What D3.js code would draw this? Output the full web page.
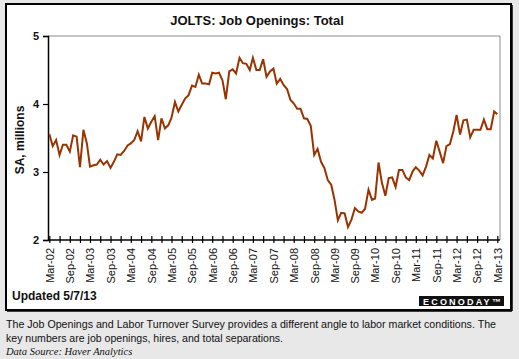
<!DOCTYPE html>
<html>
<head>
<meta charset="utf-8">
<script src="https://cdn.jsdelivr.net/npm/d3@7"></script>
<style>
  html, body { margin: 0; padding: 0; background: #e8e8e8; }
  svg { display: block; }
</style>
</head>
<body>
<svg id="chart" width="519" height="359"></svg>
<script>
// ---- Data (monthly, Mar-02 .. Mar-13), job openings, SA, millions ----
const startMonth = new Date(2002, 2, 1);
const openings = [
  3.56, 3.38, 3.47, 3.25, 3.40, 3.40, 3.30, 3.54, 3.52, 3.07, 3.62, 3.42,
  3.08, 3.10, 3.11, 3.18, 3.11, 3.16, 3.06, 3.15, 3.26, 3.25, 3.31, 3.39,
  3.42, 3.47, 3.60, 3.45, 3.81, 3.64, 3.74, 3.82, 3.47, 3.79, 3.64, 3.69,
  3.80, 4.03, 3.89, 3.99, 4.08, 4.13, 4.27, 4.25, 4.43, 4.30, 4.30, 4.29,
  4.46, 4.45, 4.46, 4.35, 4.07, 4.48, 4.51, 4.45, 4.68, 4.60, 4.59, 4.50,
  4.68, 4.50, 4.50, 4.66, 4.40, 4.48, 4.52, 4.30, 4.37, 4.28, 4.22, 4.06,
  4.01, 3.93, 3.93, 3.79, 3.78, 3.68, 3.25, 3.34, 3.15, 3.06, 2.88, 2.81,
  2.60, 2.29, 2.40, 2.39, 2.19, 2.30, 2.47, 2.42, 2.40, 2.46, 2.74, 2.59,
  2.61, 3.14, 2.84, 2.65, 2.91, 2.92, 2.78, 3.03, 3.03, 2.92, 2.88, 3.01,
  3.07, 3.02, 2.95, 3.08, 3.25, 3.20, 3.46, 3.30, 3.13, 3.38, 3.41, 3.60,
  3.84, 3.55, 3.76, 3.77, 3.51, 3.62, 3.62, 3.62, 3.77, 3.63, 3.63, 3.89,
  3.85
];
const tickLabels = ["Mar-02","Sep-02","Mar-03","Sep-03","Mar-04","Sep-04","Mar-05","Sep-05",
  "Mar-06","Sep-06","Mar-07","Sep-07","Mar-08","Sep-08","Mar-09","Sep-09","Mar-10","Sep-10",
  "Mar-11","Sep-11","Mar-12","Sep-12","Mar-13"];
const yTicks = [2, 3, 4, 5];
const title = "JOLTS: Job Openings: Total";
const yTitle = "SA, millions";
const updated = "Updated 5/7/13";
const note1 = "The Job Openings and Labor Turnover Survey provides a different angle to labor market conditions. The";
const note2 = "key numbers are job openings, hires, and total separations.";
const source = "Data Source: Haver Analytics";

// ---- Build ----
const fmt = d3.timeFormat("%b-%y");
const months = openings.map((v, i) => d3.timeMonth.offset(startMonth, i));
const data = months.map((m, i) => ({ m, v: openings[i] }));

const svg = d3.select("#chart");
const font = "Arial, 'Liberation Sans', Helvetica, sans-serif";

// frame
svg.append("rect").attr("x", 6).attr("y", 4).attr("width", 505).attr("height", 306)
  .attr("fill", "#ffffff").attr("stroke", "#000").attr("stroke-width", 2);
svg.append("line").attr("x1", 512).attr("x2", 512).attr("y1", 5).attr("y2", 311).attr("stroke", "#000").attr("stroke-width", 1.5);
svg.append("line").attr("x1", 7).attr("x2", 512).attr("y1", 311).attr("y2", 311).attr("stroke", "#000").attr("stroke-width", 1.5);

const x = d3.scaleTime().domain([months[0], months[months.length - 1]]).range([49.3, 497.3]);
const y = d3.scaleLinear().domain([2, 5]).range([240, 36]);
const pLeft = 48, pRight = 500, pTop = 36, pBottom = 240;

// plot frame (top/right grey)
svg.append("line").attr("x1", pLeft).attr("x2", pRight).attr("y1", pTop).attr("y2", pTop).attr("stroke", "#8c8c8c").attr("stroke-width", 1);
svg.append("line").attr("x1", pRight).attr("x2", pRight).attr("y1", pTop).attr("y2", pBottom).attr("stroke", "#8c8c8c").attr("stroke-width", 1);

// y axis
const yAxis = d3.axisLeft(y).tickValues(yTicks).tickSize(5).tickFormat(d3.format("d"));
const gy = svg.append("g").attr("transform", `translate(${pLeft},0)`).call(yAxis);
gy.select(".domain").attr("stroke", "#000").attr("stroke-width", 1.5);
gy.selectAll(".tick line").attr("stroke", "#000").attr("stroke-width", 1.2);
gy.selectAll(".tick text").attr("font-family", font).attr("font-size", 11).attr("font-weight", "bold")
  .attr("fill", "#111").attr("x", -9);

// x axis: ticks every 3 months, labels every 6 months
const tickMonths = months.filter((m, i) => i % 3 === 0);
const xAxis = d3.axisBottom(x).tickValues(tickMonths).tickSize(4)
  .tickFormat(d => { const s = fmt(d); return tickLabels.includes(s) ? s : ""; });
const gx = svg.append("g").attr("transform", `translate(0,${pBottom})`).call(xAxis);
gx.select(".domain").attr("stroke", "#000").attr("stroke-width", 1.5).attr("d", `M${pLeft},0H${pRight}`);
gx.selectAll(".tick line").attr("stroke", "#000").attr("stroke-width", 1.2).attr("y1", -4).attr("y2", 3);
gx.selectAll(".tick text").attr("font-family", font).attr("font-size", 11).attr("fill", "#111")
  .attr("transform", "rotate(-90)").attr("text-anchor", "end")
  .attr("x", -8).attr("y", 0).attr("dy", "0.35em");

// line
const line = d3.line().x(d => x(d.m)).y(d => y(d.v));
svg.append("path").datum(data).attr("d", line).attr("fill", "none")
  .attr("stroke", "#993300").attr("stroke-width", 2).attr("stroke-linejoin", "miter");

// title
svg.append("text").attr("x", 257).attr("y", 25).attr("text-anchor", "middle")
  .attr("font-family", font).attr("font-size", 13).attr("font-weight", "bold").attr("fill", "#111")
  .text(title);
// y title
svg.append("text").attr("transform", "translate(24,140) rotate(-90)").attr("text-anchor", "middle")
  .attr("font-family", font).attr("font-size", 12).attr("font-weight", "bold").attr("fill", "#111")
  .text(yTitle);
// updated
svg.append("text").attr("x", 12).attr("y", 300)
  .attr("font-family", font).attr("font-size", 12).attr("font-weight", "bold").attr("fill", "#111")
  .text(updated);
// logo
svg.append("rect").attr("x", 419).attr("y", 296).attr("width", 85).attr("height", 10).attr("fill", "#111");
svg.append("text").attr("x", 423).attr("y", 304.5)
  .attr("font-family", font).attr("font-size", 9).attr("font-weight", "bold").attr("fill", "#fff")
  .attr("letter-spacing", 2.2).text("ECONODAY\u2122");

// notes
svg.append("text").attr("x", 6).attr("y", 328).attr("font-family", font).attr("font-size", 11)
  .attr("textLength", 490).attr("lengthAdjust", "spacingAndGlyphs").attr("fill", "#111").text(note1);
svg.append("text").attr("x", 6).attr("y", 342).attr("font-family", font).attr("font-size", 11)
  .attr("textLength", 277).attr("lengthAdjust", "spacingAndGlyphs").attr("fill", "#111").text(note2);
svg.append("text").attr("x", 6).attr("y", 355).attr("font-family", "'Liberation Serif', 'Times New Roman', serif")
  .attr("font-size", 10.5).attr("font-style", "italic").attr("fill", "#111").text(source);
</script>
</body>
</html>
